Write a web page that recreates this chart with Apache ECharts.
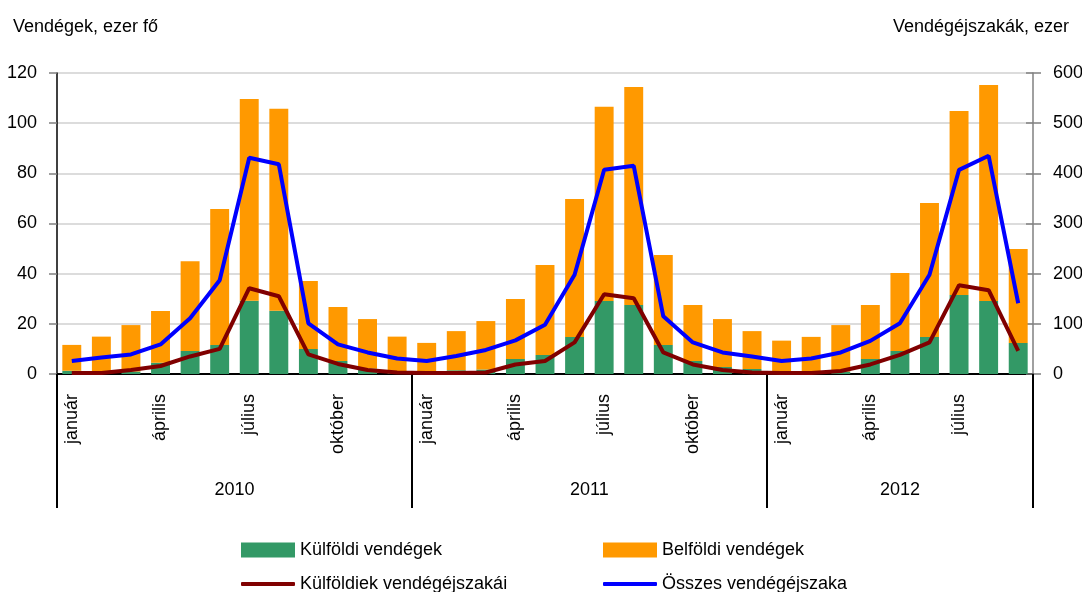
<!DOCTYPE html>
<html>
<head>
<meta charset="utf-8">
<script src="https://cdn.jsdelivr.net/npm/echarts@6/dist/echarts.min.js"></script>
<style>
html,body{margin:0;padding:0;background:#fff;}
#chart{width:1082px;height:592px;}
</style>
</head>
<body>
<div id="chart"></div>
<script>
// ---- data ----
const years = ['2010', '2011', '2012'];
const monthNames = ['január','február','március','április','május','június','július','augusztus','szeptember','október','november','december'];
const monthsPerYear = [12, 12, 9];

// Vendégek, ezer fő (left axis)
const kulfoldiVendegek = [
  1.3, 0.8, 1.0, 4.5, 9.2, 11.6, 29.2, 25.2, 10.0, 5.2, 2.2, 1.0,
  0.5, 1.5, 1.8, 6.0, 7.6, 14.8, 29.1, 27.5, 11.6, 5.2, 2.8, 2.0,
  0.5, 0.5, 1.0, 6.0, 9.2, 14.8, 31.5, 29.1, 12.4
];
const belfoldiVendegek = [
  10.3, 14.1, 18.5, 20.6, 35.8, 54.2, 80.4, 80.5, 27.1, 21.5, 19.7, 13.9,
  11.9, 15.6, 19.3, 23.9, 35.9, 55.0, 77.4, 86.9, 35.8, 22.3, 19.1, 15.1,
  12.8, 14.3, 18.5, 21.5, 31.1, 53.4, 73.4, 86.1, 37.4
];
// Vendégéjszakák, ezer (right axis)
const kulfoldiekEjszakai = [
  2, 2, 8, 16, 35, 50, 171, 155, 39, 20, 8, 3,
  2, 2, 3, 19, 26, 63, 159, 151, 43, 19, 8, 3,
  2, 2, 6, 19, 38, 63, 177, 167, 46
];
const osszesEjszaka = [
  26, 33, 39, 59, 111, 187, 431, 418, 101, 59, 43, 31,
  26, 36, 48, 67, 98, 198, 407, 415, 115, 63, 43, 35,
  26, 31, 43, 66, 101, 198, 407, 435, 141
];
const leftTicks = [0, 120, 20];
const rightTicks = [0, 600, 100];

// ---- derived ----
const categories = [];
const yearStarts = [];
const yearMids = {};
years.forEach((y, yi) => {
  yearStarts.push(categories.length);
  yearMids[categories.length + monthsPerYear[yi] / 2] = y;
  for (let m = 0; m < monthsPerYear[yi]; m++) categories.push(y + ' ' + monthNames[m]);
});

const FONT = "'Liberation Sans', Arial, sans-serif";
const txt = {fontFamily: FONT, fontSize: 18, color: '#000'};

const chart = echarts.init(document.getElementById('chart'), null, {renderer: 'canvas'});
chart.setOption({
  animation: false,
  backgroundColor: '#fff',
  textStyle: {fontFamily: FONT},
  title: [
    {text: 'Vendégek, ezer fő', left: 8, top: 13, textStyle: Object.assign({fontWeight: 'normal'}, txt)},
    {text: 'Vendégéjszakák, ezer', right: 8, top: 13, textStyle: Object.assign({fontWeight: 'normal'}, txt)}
  ],
  legend: [
    {data: [{name: 'Külföldi vendégek', icon: 'rect'}], left: 241, top: 541, padding: 0, itemWidth: 54, itemHeight: 15, itemGap: 0, textStyle: txt, selectedMode: false},
    {data: [{name: 'Belföldi vendégek', icon: 'rect'}], left: 603, top: 541, padding: 0, itemWidth: 54, itemHeight: 15, itemGap: 0, textStyle: txt, selectedMode: false},
    {data: [{name: 'Külföldiek vendégéjszakái', icon: 'roundRect'}], left: 241, top: 575, padding: 0, itemWidth: 54, itemHeight: 4, textStyle: txt, selectedMode: false},
    {data: [{name: 'Összes vendégéjszaka', icon: 'roundRect'}], left: 603, top: 575, padding: 0, itemWidth: 54, itemHeight: 4, textStyle: txt, selectedMode: false}
  ],
  grid: {left: 57, right: 49, top: 73, bottom: 218, containLabel: false, outerBoundsMode: 'none'},
  xAxis: [
    {
      type: 'category',
      data: categories,
      position: 'bottom',
      boundaryGap: true,
      axisLine: {onZero: false, lineStyle: {color: '#000', width: 2}},
      axisTick: {show: true, interval: (i) => yearStarts.indexOf(i) >= 0, length: 134, lineStyle: {color: '#000', width: 2}},
      axisLabel: Object.assign({interval: (i) => i % 3 === 0, rotate: 90, margin: 20,
        formatter: (v) => v.split(' ')[1]}, txt),
      splitLine: {show: false}
    },
    {
      type: 'value',
      position: 'bottom',
      min: 0, max: categories.length, interval: 0.5,
      axisLine: {show: false, onZero: false},
      axisTick: {show: false},
      splitLine: {show: false},
      axisLabel: Object.assign({margin: 107, showMinLabel: true, showMaxLabel: true,
        formatter: (v) => yearMids[v] || ''}, txt)
    }
  ],
  yAxis: [
    {
      type: 'value', position: 'left',
      min: leftTicks[0], max: leftTicks[1], interval: leftTicks[2],
      axisLine: {show: true, onZero: false, lineStyle: {color: '#000', width: 1.5}},
      axisTick: {show: true, inside: false, length: 8, lineStyle: {color: '#808080', width: 1.5}},
      axisLabel: Object.assign({margin: 20}, txt),
      splitLine: {show: true, lineStyle: {color: '#d0d0d0', width: 1.5}}
    },
    {
      type: 'value', position: 'right',
      min: rightTicks[0], max: rightTicks[1], interval: rightTicks[2],
      axisLine: {show: true, onZero: false, lineStyle: {color: '#808080', width: 1.5}},
      axisTick: {show: true, inside: false, length: 8, lineStyle: {color: '#808080', width: 1.5}},
      axisLabel: Object.assign({margin: 20}, txt),
      splitLine: {show: false}
    },
    {
      type: 'value', position: 'right',
      min: rightTicks[0], max: rightTicks[1], interval: rightTicks[2],
      axisLine: {show: false, onZero: false},
      axisTick: {show: true, inside: true, length: 7, lineStyle: {color: '#808080', width: 1.5}},
      axisLabel: {show: false},
      splitLine: {show: false}
    }
  ],
  series: [
    {name: 'Külföldi vendégek', type: 'bar', stack: 'v', xAxisIndex: 0, yAxisIndex: 0,
      barWidth: '64%', itemStyle: {color: '#339966'}, data: kulfoldiVendegek},
    {name: 'Belföldi vendégek', type: 'bar', stack: 'v', xAxisIndex: 0, yAxisIndex: 0,
      barWidth: '64%', itemStyle: {color: '#FF9900'}, data: belfoldiVendegek},
    {name: 'Külföldiek vendégéjszakái', type: 'line', xAxisIndex: 0, yAxisIndex: 1,
      symbol: 'none', itemStyle: {color: '#800000'}, lineStyle: {color: '#800000', width: 4}, data: kulfoldiekEjszakai},
    {name: 'Összes vendégéjszaka', type: 'line', xAxisIndex: 0, yAxisIndex: 1,
      symbol: 'none', itemStyle: {color: '#0000FF'}, lineStyle: {color: '#0000FF', width: 4}, data: osszesEjszaka}
  ]
});
</script>
</body>
</html>
